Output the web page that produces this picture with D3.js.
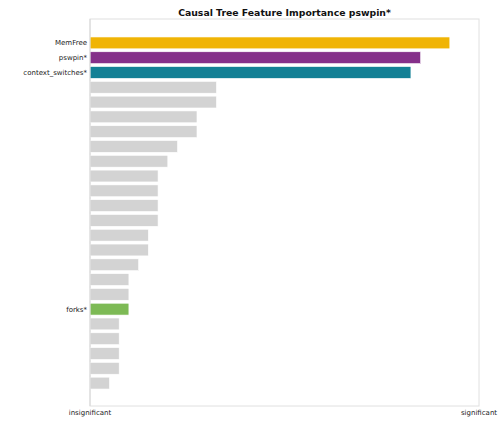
<!DOCTYPE html>
<html>
<head>
<meta charset="utf-8">
<script src="https://cdn.jsdelivr.net/npm/d3@7"></script>
<style>
  body { margin: 0; background: #fff; }
  svg { font-family: "DejaVu Sans", sans-serif; }
</style>
</head>
<body>
<svg id="chart"></svg>
<script>
// feature labels (blank = unlabeled feature), top to bottom
const features = [
  "MemFree", "pswpin*", "context_switches*",
  "f4", "f5", "f6", "f7", "f8", "f9", "f10", "f11", "f12", "f13", "f14", "f15",
  "f16", "f17", "f18", "forks*", "f20", "f21", "f22", "f23", "f24"
];
const shownLabels = ["MemFree", "pswpin*", "context_switches*", "forks*"];
const importance = [
  37, 34, 33,
  13, 13, 11, 11, 9, 8, 7, 7, 7, 7, 6, 6,
  5, 4, 4, 4, 3, 3, 3, 3, 2
];
const highlight = {
  "MemFree": "#f0b405",
  "pswpin*": "#85308a",
  "context_switches*": "#138095",
  "forks*": "#7dba55"
};
const xDomain = [0, 40];
const xTickLabels = ["insignificant", "significant"];

const width = 500, height = 427;
const margin = { top: 19, right: 21, bottom: 21, left: 90 };

const svg = d3.select("#chart")
  .attr("width", width)
  .attr("height", height);

const x = d3.scaleLinear()
  .domain(xDomain)
  .range([margin.left, width - margin.right]);

const y = d3.scaleBand()
  .domain(features)
  .range([margin.top + 16.5, height - margin.bottom - 15.5])
  .paddingInner(0.2)
  .paddingOuter(0.1);

// frame
svg.append("rect")
  .attr("x", margin.left)
  .attr("y", margin.top)
  .attr("width", width - margin.left - margin.right)
  .attr("height", height - margin.top - margin.bottom)
  .attr("fill", "none")
  .attr("stroke", "#e0e0e0")
  .attr("stroke-width", 1);

svg.append("g")
  .selectAll("rect")
  .data(features)
  .join("rect")
  .attr("x", x(0))
  .attr("y", d => y(d))
  .attr("width", (d, i) => x(importance[i]) - x(0))
  .attr("height", y.bandwidth())
  .attr("fill", d => highlight[d] || "#d3d3d3")
  .attr("stroke", "#fff")
  .attr("stroke-width", 0.6);

// left axis line
svg.append("line")
  .attr("x1", margin.left).attr("x2", margin.left)
  .attr("y1", margin.top).attr("y2", height - margin.bottom)
  .attr("stroke", "#d8d8d8");

// y tick labels
svg.append("g")
  .selectAll("text")
  .data(shownLabels)
  .join("text")
  .attr("x", margin.left - 3)
  .attr("y", d => y(d) + y.bandwidth() / 2)
  .attr("dy", "0.35em")
  .attr("text-anchor", "end")
  .attr("font-size", 7)
  .attr("fill", "#222")
  .text(d => d);

// x tick labels
svg.append("g")
  .selectAll("text")
  .data(xTickLabels)
  .join("text")
  .attr("x", (d, i) => x(xDomain[i]))
  .attr("y", height - margin.bottom + 9)
  .attr("text-anchor", "middle")
  .attr("font-size", 7)
  .attr("fill", "#222")
  .text(d => d);

// title
svg.append("text")
  .attr("x", (margin.left + width - margin.right) / 2)
  .attr("y", 16)
  .attr("text-anchor", "middle")
  .attr("font-size", 9.3)
  .attr("font-weight", "bold")
  .attr("fill", "#111")
  .text("Causal Tree Feature Importance pswpin*");
</script>
</body>
</html>
